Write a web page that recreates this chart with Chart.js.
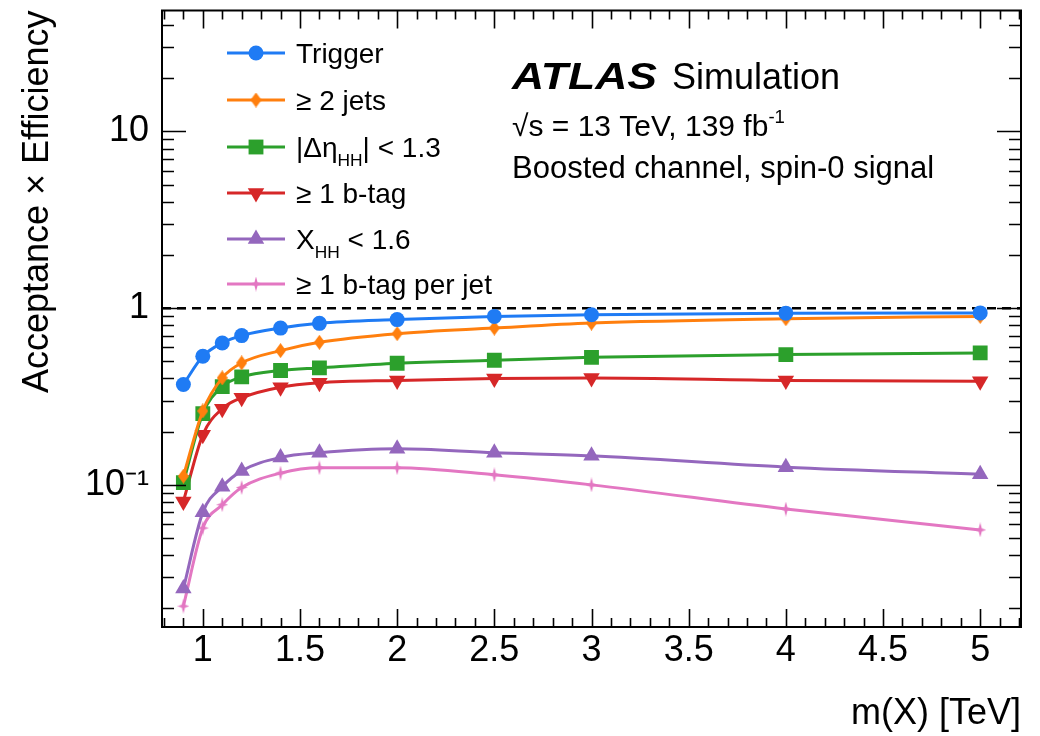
<!DOCTYPE html>
<html>
<head>
<meta charset="utf-8">
<script src="https://cdn.jsdelivr.net/npm/chart.js@4.4.1/dist/chart.umd.min.js"></script>
<style>
  html, body { margin: 0; padding: 0; background: #fff; }
  canvas { display: block; }
</style>
</head>
<body>
<canvas id="effChart" width="1040" height="736"></canvas>
<script>
// resonance mass points (TeV)
const massTeV = [0.9, 1.0, 1.1, 1.2, 1.4, 1.6, 2.0, 2.5, 3.0, 4.0, 5.0];

// acceptance x efficiency after each cut
const trigger    = [0.370, 0.534, 0.635, 0.699, 0.771, 0.820, 0.861, 0.898, 0.918, 0.937, 0.940];
const twoJets    = [0.112, 0.262, 0.403, 0.490, 0.575, 0.641, 0.717, 0.771, 0.823, 0.871, 0.898];
const dEtaCut    = [0.103, 0.253, 0.360, 0.408, 0.444, 0.459, 0.488, 0.507, 0.527, 0.546, 0.558];
const oneBtag    = [0.0806, 0.192, 0.270, 0.311, 0.357, 0.378, 0.390, 0.400, 0.403, 0.390, 0.386];
const xhhCut     = [0.0259, 0.0699, 0.0976, 0.120, 0.143, 0.152, 0.160, 0.152, 0.146, 0.126, 0.115];
const btagPerJet = [0.0206, 0.057, 0.0772, 0.0966, 0.1166, 0.125, 0.125, 0.114, 0.100, 0.073, 0.0556];

// legend labels, as [text, 'sub'|'sup'|undefined] pieces
const seriesLabels = [
  [['Trigger']],
  [['\u2265 2 jets']],
  [['|\u0394\u03b7'], ['HH', 'sub'], ['| < 1.3']],
  [['\u2265 1 b-tag']],
  [['X'], ['HH', 'sub'], [' < 1.6']],
  [['\u2265 1 b-tag per jet']]
];

// axes
const xRange = [0.79, 5.21];
const yRange = [0.0157, 48.3];
const xMajorTicks = [1, 1.5, 2, 2.5, 3, 3.5, 4, 4.5, 5];
const yMajorTicks = [0.1, 1, 10];
const yTickLabels = ['10\u207b\u00b9', '1', '10'];
const unityLine = [1, 1];

const FONT = "'Liberation Sans', Arial, Helvetica, sans-serif";
const colors = ['#1f7bf4', '#ff7f0e', '#2ca02c', '#d62728', '#9467bd', '#e377c2'];

// small custom markers
function thinDiamond(color, w, h) {
  const c = document.createElement('canvas');
  c.width = w; c.height = h;
  const g = c.getContext('2d');
  g.fillStyle = color;
  g.beginPath();
  g.moveTo(w / 2, 0); g.lineTo(w, h / 2); g.lineTo(w / 2, h); g.lineTo(0, h / 2);
  g.closePath(); g.fill();
  return c;
}
function thinStar(color, w, h) {
  const c = document.createElement('canvas');
  c.width = w; c.height = h;
  const g = c.getContext('2d');
  const cx = w / 2, cy = h / 2, k = 1.6;
  g.fillStyle = color;
  g.beginPath();
  g.moveTo(cx, 0); g.lineTo(cx + k, cy - k); g.lineTo(w, cy); g.lineTo(cx + k, cy + k);
  g.lineTo(cx, h); g.lineTo(cx - k, cy + k); g.lineTo(0, cy); g.lineTo(cx - k, cy - k);
  g.closePath(); g.fill();
  return c;
}

const markers = [
  { style: 'circle', radius: 7.5, rotation: 0 },
  { style: thinDiamond(colors[1], 11, 15), radius: 7, rotation: 0 },
  { style: 'rect', radius: 10.5, rotation: 0 },
  { style: 'triangle', radius: 9.5, rotation: 180 },
  { style: 'triangle', radius: 9.5, rotation: 0 },
  { style: thinStar(colors[5], 12, 15), radius: 7, rotation: 0 }
];

const seriesValues = [trigger, twoJets, dEtaCut, oneBtag, xhhCut, btagPerJet];

const datasets = seriesValues.map((vals, i) => ({
  data: massTeV.map((m, j) => ({ x: m, y: vals[j] })),
  borderColor: colors[i],
  backgroundColor: colors[i],
  borderWidth: 3,
  pointStyle: markers[i].style,
  pointRadius: markers[i].radius,
  pointRotation: markers[i].rotation,
  pointBorderWidth: 0,
  cubicInterpolationMode: 'monotone',
  fill: false
}));

// dashed line at unity
datasets.push({
  data: xRange.map((v, j) => ({ x: v, y: unityLine[j] })),
  borderColor: '#000',
  borderWidth: 2.5,
  borderDash: [9, 6],
  pointRadius: 0,
  fill: false
});

function drawRich(ctx, parts, x, y, size) {
  let cx = x;
  parts.forEach(([t, mode]) => {
    let s = size, dy = 0;
    if (mode === 'sub') { s = size * 0.62; dy = size * 0.32; }
    if (mode === 'sup') { s = size * 0.62; dy = -size * 0.42; }
    ctx.font = s + 'px ' + FONT;
    ctx.fillText(t, cx, y + dy);
    cx += ctx.measureText(t).width;
  });
}

function drawMarker(ctx, i, x, y) {
  const m = markers[i];
  ctx.fillStyle = colors[i];
  if (typeof m.style !== 'string') {
    ctx.drawImage(m.style, x - m.style.width / 2, y - m.style.height / 2);
    return;
  }
  ctx.beginPath();
  if (m.style === 'circle') {
    ctx.arc(x, y, m.radius, 0, Math.PI * 2);
  } else if (m.style === 'rect') {
    const s = Math.SQRT1_2 * m.radius;
    ctx.rect(x - s, y - s, 2 * s, 2 * s);
  } else {
    const r = m.radius;
    let a = m.rotation * Math.PI / 180;
    for (let k = 0; k < 3; k++) {
      const px = x + Math.sin(a) * r, py = y - Math.cos(a) * r;
      if (k === 0) ctx.moveTo(px, py); else ctx.lineTo(px, py);
      a += 2 * Math.PI / 3;
    }
    ctx.closePath();
  }
  ctx.fill();
}

const framePlugin = {
  id: 'frame',
  afterDatasetsDraw(chart) {
    const { ctx, chartArea: a, scales: { x, y } } = chart;
    ctx.save();
    ctx.strokeStyle = '#000';
    ctx.lineWidth = 2;
    ctx.strokeRect(a.left, a.top, a.right - a.left, a.bottom - a.top);
    ctx.lineWidth = 1.6;
    ctx.beginPath();
    for (let i = 7; i <= 53; i++) {
      const v = i / 10;
      if (v < x.min || v > x.max) continue;
      const px = Math.round(x.getPixelForValue(v)) + 0.5;
      const len = i % 5 === 0 ? 18 : 9;
      ctx.moveTo(px, a.bottom); ctx.lineTo(px, a.bottom - len);
      ctx.moveTo(px, a.top); ctx.lineTo(px, a.top + len);
    }
    for (let e = -2; e <= 1; e++) {
      for (let m = 1; m <= 9; m++) {
        const v = m * Math.pow(10, e);
        if (v < y.min || v > y.max) continue;
        const py = Math.round(y.getPixelForValue(v)) + 0.5;
        const len = m === 1 ? 24 : 12;
        ctx.moveTo(a.left, py); ctx.lineTo(a.left + len, py);
        ctx.moveTo(a.right, py); ctx.lineTo(a.right - len, py);
      }
    }
    ctx.stroke();
    ctx.restore();
  },
  afterDraw(chart) {
    const { ctx } = chart;
    ctx.save();
    // legend
    const rowY = [53, 100, 147, 193, 239, 284];
    seriesLabels.forEach((parts, i) => {
      const yy = rowY[i];
      ctx.strokeStyle = colors[i];
      ctx.lineWidth = 3;
      ctx.beginPath();
      ctx.moveTo(227, yy); ctx.lineTo(285, yy);
      ctx.stroke();
      drawMarker(ctx, i, 256, yy);
      ctx.fillStyle = '#000';
      ctx.textBaseline = 'alphabetic';
      drawRich(ctx, parts, 296, yy + 10, 28);
    });
    // experiment label, ATLAS stretched to the reference width
    ctx.fillStyle = '#000';
    ctx.font = 'italic bold 36px ' + FONT;
    const aw = ctx.measureText('ATLAS').width;
    ctx.save();
    ctx.translate(512, 89);
    ctx.scale(145 / aw, 1);
    ctx.fillText('ATLAS', 0, 0);
    ctx.restore();
    ctx.font = '36px ' + FONT;
    ctx.fillText('Simulation', 672, 89);
    drawRich(ctx, [['\u221as = 13 TeV, 139 fb'], ['-1', 'sup']], 512, 136, 30);
    ctx.font = '31px ' + FONT;
    ctx.fillText('Boosted channel, spin-0 signal', 512, 178);
    ctx.restore();
  }
};

function noEdgePadding(s) {
  s.paddingTop = 0;
  s.paddingBottom = 0;
  s.paddingLeft = 0;
  s.paddingRight = 0;
}

const ctx = document.getElementById('effChart').getContext('2d');
new Chart(ctx, {
  type: 'line',
  data: { datasets },
  options: {
    responsive: false,
    animation: false,
    layout: { padding: { top: 8, right: 19, left: 0, bottom: 0 } },
    plugins: { legend: { display: false }, tooltip: { enabled: false } },
    scales: {
      x: {
        type: 'linear',
        min: xRange[0],
        max: xRange[1],
        grid: { display: false, drawTicks: false },
        border: { display: false },
        afterBuildTicks: s => { s.ticks = xMajorTicks.map(v => ({ value: v })); },
        afterFit: s => { s.height = 109; noEdgePadding(s); },
        ticks: {
          color: '#000',
          padding: 2,
          maxRotation: 0,
          font: { family: FONT, size: 36 },
          callback: v => String(v)
        },
        title: {
          display: true,
          text: 'm(X) [TeV]',
          align: 'end',
          color: '#000',
          font: { family: FONT, size: 36 },
          padding: { top: 0, bottom: 0 }
        }
      },
      y: {
        type: 'logarithmic',
        min: yRange[0],
        max: yRange[1],
        grid: { display: false, drawTicks: false },
        border: { display: false },
        afterBuildTicks: s => { s.ticks = yMajorTicks.map(v => ({ value: v })); },
        afterFit: s => { s.width = 162; noEdgePadding(s); },
        ticks: {
          color: '#000',
          padding: 13,
          font: { family: FONT, size: 36 },
          callback: v => {
            const k = yMajorTicks.indexOf(v);
            return k >= 0 ? yTickLabels[k] : '';
          }
        },
        title: {
          display: true,
          text: 'Acceptance \u00d7 Efficiency',
          align: 'end',
          color: '#000',
          font: { family: FONT, size: 36 },
          padding: { top: 16, bottom: 0 }
        }
      }
    }
  },
  plugins: [framePlugin]
});
</script>
</body>
</html>
